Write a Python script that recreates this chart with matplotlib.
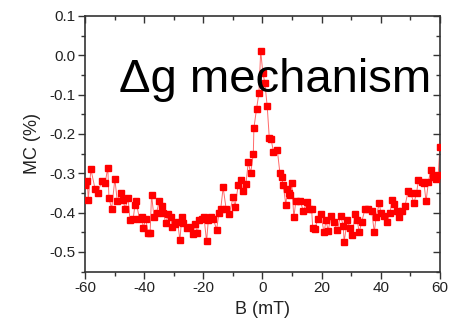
import matplotlib
matplotlib.use('Agg')
import matplotlib.pyplot as plt
from matplotlib.ticker import MultipleLocator

# magnetic field (mT) and magnetoconductance (%)
field = [-60.0, -59.2, -58.9, -58.0, -56.6, -55.7, -54.4, -53.2, -52.3, -51.9,
         -51.0, -49.9, -49.1, -47.9, -47.1, -46.5, -45.4, -44.8, -43.7, -43.1,
         -42.8, -41.6, -40.8, -40.3, -39.5, -38.6, -38.0, -37.5, -36.7, -35.8,
         -34.9, -34.1, -33.5, -32.7, -31.8, -31.0, -30.5, -29.6, -28.7, -27.9,
         -27.3, -26.8, -25.6, -24.5, -23.6, -22.8, -22.0, -21.5, -20.6, -19.8,
         -18.9, -18.3, -17.5, -16.7, -15.5, -14.7, -14.1, -13.3, -12.3, -11.2,
         -9.9, -9.3, -8.2, -7.4, -6.7, -5.6, -4.8, -4.0, -3.1, -2.9,
         -2.0, -1.2, -0.6, 0.1, 0.8, 1.6, 2.3, 2.9, 3.7, 5.0,
         5.9, 6.5, 7.0, 7.9, 8.4, 9.0, 9.3, 9.9, 10.6, 11.3,
         12.7, 13.8, 15.1, 15.8, 16.6, 17.0, 17.7, 18.7, 19.7, 20.8,
         21.5, 22.2, 23.2, 24.2, 25.3, 26.4, 27.3, 27.6, 28.7, 29.6,
         30.4, 31.3, 32.0, 32.7, 33.5, 34.7, 35.8, 36.9, 37.8, 38.4,
         39.5, 40.0, 41.1, 42.2, 43.1, 43.9, 44.5, 45.4, 46.2, 47.1,
         48.2, 49.3, 50.1, 51.2, 52.1, 52.7, 53.8, 54.6, 55.3, 56.1,
         56.9, 57.7, 58.7, 59.4, 60.0]
mc = [-0.330, -0.320, -0.367, -0.290, -0.340, -0.350, -0.320, -0.325, -0.286, -0.363,
      -0.390, -0.315, -0.370, -0.350, -0.367, -0.390, -0.364, -0.420, -0.415, -0.380,
      -0.370, -0.415, -0.410, -0.440, -0.415, -0.453, -0.453, -0.355, -0.410, -0.400,
      -0.370, -0.383, -0.400, -0.427, -0.403, -0.410, -0.437, -0.430, -0.425, -0.470,
      -0.410, -0.427, -0.440, -0.437, -0.455, -0.430, -0.453, -0.420, -0.415, -0.410,
      -0.473, -0.418, -0.410, -0.415, -0.443, -0.400, -0.390, -0.336, -0.390, -0.403,
      -0.360, -0.386, -0.330, -0.316, -0.345, -0.328, -0.271, -0.300, -0.251, -0.185,
      -0.136, -0.096, 0.011, -0.044, -0.070, -0.130, -0.210, -0.213, -0.245, -0.240,
      -0.300, -0.310, -0.330, -0.380, -0.340, -0.350, -0.354, -0.326, -0.412, -0.370,
      -0.370, -0.395, -0.373, -0.390, -0.390, -0.440, -0.442, -0.416, -0.403, -0.450,
      -0.420, -0.446, -0.408, -0.425, -0.444, -0.408, -0.433, -0.474, -0.420, -0.440,
      -0.456, -0.403, -0.419, -0.450, -0.425, -0.390, -0.390, -0.395, -0.450, -0.412,
      -0.376, -0.400, -0.408, -0.423, -0.400, -0.367, -0.378, -0.397, -0.412, -0.395,
      -0.382, -0.344, -0.350, -0.376, -0.350, -0.318, -0.322, -0.326, -0.371, -0.322,
      -0.292, -0.309, -0.314, -0.305, -0.233]

plt.rcParams['font.family'] = ['Liberation Sans', 'DejaVu Sans']
plt.rcParams['axes.unicode_minus'] = False

fig = plt.figure(figsize=(4.58, 3.23), dpi=100)
ax = fig.add_axes([0.1856, 0.159, 0.775, 0.792])

ax.plot(field, mc, color='#ff4444', lw=0.7, alpha=0.8, zorder=2)
ax.plot(field, mc, ls='none', marker='s', ms=4.8, color='#ff0000',
        mec='#ff0000', zorder=3)

ax.set_xlim(-60, 60)
ax.set_ylim(-0.55, 0.1)
ax.xaxis.set_major_locator(MultipleLocator(20))
ax.xaxis.set_minor_locator(MultipleLocator(10))
ax.yaxis.set_major_locator(MultipleLocator(0.1))
ax.yaxis.set_minor_locator(MultipleLocator(0.05))
ax.set_yticks([0.1, 0.0, -0.1, -0.2, -0.3, -0.4, -0.5])
ax.set_yticklabels(['0.1', '0.0', '-0.1', '-0.2', '-0.3', '-0.4', '-0.5'])

ax.tick_params(which='both', direction='out', labelsize=11, labelcolor='#222222',
               color='#333333', width=1)
ax.tick_params(which='major', length=5, pad=2)
ax.tick_params(which='minor', length=3)
ax.tick_params(which='both', top=True, right=True, labeltop=False, labelright=False)
# mirrored ticks on top/right point inward
for t in ax.xaxis.get_ticklines(minor=False)[1::2] + ax.xaxis.get_ticklines(minor=True)[1::2]:
    t.set_marker(3)
for t in ax.yaxis.get_ticklines(minor=False)[1::2] + ax.yaxis.get_ticklines(minor=True)[1::2]:
    t.set_marker(0)

for s in ax.spines.values():
    s.set_color('#333333')
    s.set_linewidth(1.2)

ax.set_xlabel('B (mT)', fontsize=13, color='#222222', labelpad=4)
ax.set_ylabel('MC (%)', fontsize=13, color='#222222', labelpad=6)

ax.text(0.975, 0.75, '\u0394g mechanism', transform=ax.transAxes, ha='right',
        va='center', fontsize=34, color='black', zorder=4)

fig.savefig('out.png', dpi=100)
